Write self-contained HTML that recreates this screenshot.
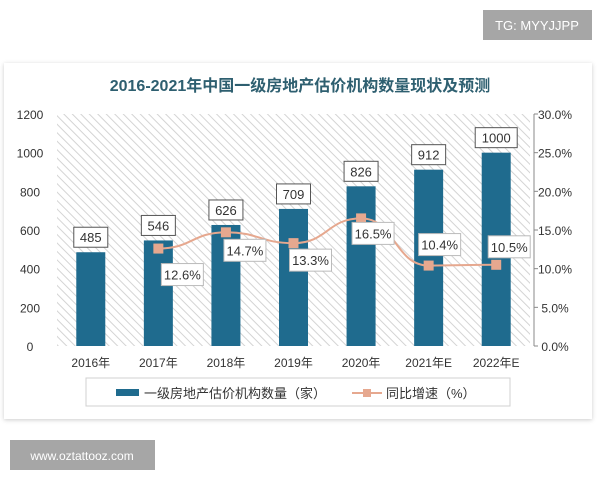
<!DOCTYPE html>
<html><head><meta charset="utf-8"><style>
body{margin:0;width:600px;height:480px;background:#fff;overflow:hidden;font-family:"Liberation Sans","Noto Sans CJK SC",sans-serif}
svg text{font-family:"Liberation Sans","Noto Sans CJK SC",sans-serif}
</style></head><body>
<svg width="600" height="480">
<defs>
<pattern id="hatch" width="6" height="6" patternUnits="userSpaceOnUse" patternTransform="rotate(-45)">
<rect width="6" height="6" fill="#fff"/><line x1="0" y1="0" x2="0" y2="6" stroke="#d4d4d4" stroke-width="2"/>
</pattern>
<filter id="sh"><feDropShadow dx="0" dy="1" stdDeviation="2" flood-color="#000" flood-opacity="0.2"/></filter>
</defs>
<rect x="483" y="10" width="109" height="30" fill="#a6a6a6"/>
<text x="537" y="30" fill="#fff" font-size="13" text-anchor="middle">TG: MYYJJPP</text>
<rect x="4" y="63" width="588" height="356" fill="#fff" filter="url(#sh)"/>
<text x="300" y="91" fill="#2e5f70" font-size="16" font-weight="bold" text-anchor="middle" font-family="Liberation Serif,Noto Serif CJK SC,serif">2016-2021年中国一级房地产估价机构数量现状及预测</text>
<rect x="57" y="114" width="473" height="232" fill="url(#hatch)"/>
<g id="g"></g>
<rect x="86" y="378" width="424" height="28" fill="#fff" stroke="#d0d0d0"/>
<rect x="116" y="389" width="23" height="7" fill="#1f6b8e"/>
<text x="144" y="398" font-size="13" fill="#333">一级房地产估价机构数量（家）</text>
<line x1="352" y1="393" x2="382" y2="393" stroke="#e6a88f" stroke-width="2"/>
<rect x="363" y="389" width="8" height="8" fill="#e6a88f"/>
<text x="386" y="398" font-size="13" fill="#333">同比增速（%）</text>
<rect x="10" y="440" width="145" height="30" fill="#a6a6a6"/>
<text x="82" y="460" fill="#fff" font-size="12" text-anchor="middle">www.oztattooz.com</text>
</svg>
<script>
const categories=["2016年","2017年","2018年","2019年","2020年","2021年E","2022年E"];
const counts=[485,546,626,709,826,912,1000];
const growth=[null,12.6,14.7,13.3,16.5,10.4,10.5];
const leftTicks=[0,200,400,600,800,1000,1200];
const rightTicks=["0.0%","5.0%","10.0%","15.0%","20.0%","25.0%","30.0%"];
const NS="http://www.w3.org/2000/svg",g=document.getElementById('g');
const x0=57,x1=530,yB=346,yT=114;
const xs=i=>x0+(x1-x0)/categories.length*(i+0.5);
const yL=v=>yB-(v/1200)*(yB-yT);
const yR=v=>yB-(v/30)*(yB-yT);
function el(t,a,txt){const e=document.createElementNS(NS,t);for(const k in a)e.setAttribute(k,a[k]);if(txt!=null)e.textContent=txt;g.appendChild(e);return e;}
leftTicks.forEach((v,i)=>{
 const t=el('text',{x:30,y:yL(v)+5,'font-size':12,fill:'#333','text-anchor':'middle'},String(v));
 
 
 const r=el('text',{x:555,y:yL(v)+5,'font-size':12,fill:'#333','text-anchor':'middle'},rightTicks[i]);
 
 
 const tk=el('line',{x1:534,x2:538,y1:yL(v),y2:yL(v),stroke:'#888'});
 
 
});
const ax=el('line',{x1:534,x2:534,y1:yT,y2:yB,stroke:'#888'});


categories.forEach((c,i)=>{
 const b=el('rect',{x:xs(i)-14.5,y:yL(counts[i]),width:29,height:yB-yL(counts[i]),fill:'#1f6b8e'});
 
 
 const l=el('text',{x:xs(i),y:yB+21,'font-size':12,fill:'#333','text-anchor':'middle'},c);
 
 
 const w=String(counts[i]).length*8+10;
 const bx=el('rect',{x:xs(i)-w/2,y:yL(counts[i])-25,width:w,height:20,fill:'#fff',stroke:'#555'});
 
 
 const bt=el('text',{x:xs(i),y:yL(counts[i])-10,'font-size':13,fill:'#333','text-anchor':'middle'},String(counts[i]));
 
 
});
let d='';const pts=[];
growth.forEach((v,i)=>{if(v!=null)pts.push([xs(i),yR(v)]);});
pts.forEach((p,i)=>{if(i==0)d='M'+p[0]+' '+p[1];else{const q=pts[i-1],mx=(q[0]+p[0])/2;d+=` C${mx} ${q[1]} ${mx} ${p[1]} ${p[0]} ${p[1]}`;}});
const ln=el('path',{d:d,fill:'none',stroke:'#e6a88f','stroke-width':2});


const offs=[null,[24,26],[19,18],[17,17],[12,15],[11,-21],[13,-18]];
growth.forEach((v,i)=>{if(v==null)return;
 const m=el('rect',{x:xs(i)-5,y:yR(v)-5,width:10,height:10,fill:'#e6a88f'});
 
 
 const cx=xs(i)+offs[i][0],cy=yR(v)+offs[i][1];
 const bx=el('rect',{x:cx-21,y:cy-11,width:42,height:22,fill:'#fff',stroke:'#bbb'});
 
 
 const t=el('text',{x:cx,y:cy+5,'font-size':13,fill:'#333','text-anchor':'middle'},v.toFixed(1)+'%');
 
 
});
</script>
</body></html>
